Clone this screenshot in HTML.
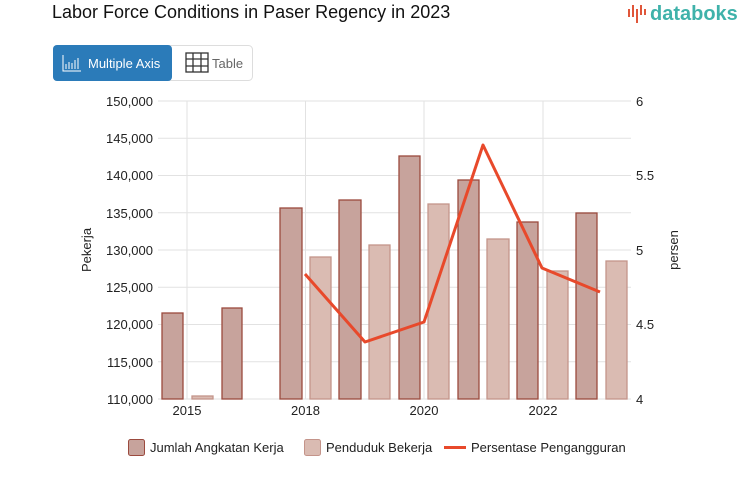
<!DOCTYPE html>
<html><head><style>
body{margin:0;width:753px;height:498px;background:#fff;font-family:"Liberation Sans",sans-serif;overflow:hidden}
</style></head><body>
<svg width="753" height="498" xmlns="http://www.w3.org/2000/svg" font-family="Liberation Sans, sans-serif">
<text x="52" y="18" font-size="18" fill="#111">Labor Force Conditions in Paser Regency in 2023</text>
<g fill="#e0563a"><rect x="628" y="9" width="2" height="8"/><rect x="632" y="5" width="2" height="12"/><rect x="636" y="9" width="2" height="14"/><rect x="640" y="5" width="2" height="10"/><rect x="644" y="9" width="2" height="6"/></g>
<text x="650" y="20" font-size="20" fill="#3fb2aa" font-weight="bold">databoks</text>
<rect x="53.5" y="45.5" width="199" height="35" rx="4" fill="#fff" stroke="#ddd"/>
<rect x="53" y="45" width="119" height="36" rx="4" fill="#2b7bb9"/>
<g stroke="#fff" fill="none" stroke-width="1"><path d="M63 55v16h18"/><path d="M66 69v-5M69 69v-7M72 69v-6M75 69v-9M78 69v-11"/></g>
<text x="88" y="68" font-size="13" fill="#fff">Multiple Axis</text>
<g stroke="#333" fill="none" stroke-width="1.3"><rect x="186" y="53" width="22" height="19"/><path d="M193 53v19M201 53v19M186 59h22M186 66h22"/></g>
<text x="212" y="68" font-size="13" fill="#666">Table</text>
<g stroke="#e2e2e2" stroke-width="1">
<path d="M158 101H631M158 138.25H631M158 175.5H631M158 212.75H631M158 250H631M158 287.25H631M158 324.5H631M158 361.75H631M158 399H631"/>
<path d="M187 101V399M305.5 101V399M424 101V399M543 101V399"/>
</g>
<g font-size="13" fill="#222" text-anchor="end">
<text x="153" y="106">150,000</text><text x="153" y="143">145,000</text><text x="153" y="180">140,000</text><text x="153" y="218">135,000</text><text x="153" y="255">130,000</text><text x="153" y="292">125,000</text><text x="153" y="329">120,000</text><text x="153" y="367">115,000</text><text x="153" y="404">110,000</text>
</g>
<g font-size="13" fill="#222">
<text x="636" y="106">6</text><text x="636" y="180">5.5</text><text x="636" y="255">5</text><text x="636" y="329">4.5</text><text x="636" y="404">4</text>
</g>
<g font-size="13" fill="#222" text-anchor="middle">
<text x="187" y="415">2015</text><text x="305.5" y="415">2018</text><text x="424" y="415">2020</text><text x="543" y="415">2022</text>
</g>
<text transform="translate(91,250) rotate(-90)" font-size="13" fill="#222" text-anchor="middle">Pekerja</text>
<text transform="translate(678,250) rotate(-90)" font-size="13" fill="#222" text-anchor="middle">persen</text>
<g fill="#c7a39c" stroke="#9b4a3e" stroke-width="1.3">
<rect x="162" y="313" width="21" height="86"/><rect x="222" y="308" width="20" height="91"/><rect x="280" y="208" width="22" height="191"/><rect x="339" y="200" width="22" height="199"/><rect x="399" y="156" width="21" height="243"/><rect x="458" y="180" width="21" height="219"/><rect x="517" y="222" width="21" height="177"/><rect x="576" y="213" width="21" height="186"/>
</g>
<g fill="#dabbb2" stroke="#c4948a" stroke-width="1.3">
<rect x="192" y="396" width="21" height="3"/><rect x="310" y="257" width="21" height="142"/><rect x="369" y="245" width="21" height="154"/><rect x="428" y="204" width="21" height="195"/><rect x="487" y="239" width="22" height="160"/><rect x="547" y="271" width="21" height="128"/><rect x="606" y="261" width="21" height="138"/>
</g>
<polyline points="305,274 365,342 424,322 483,145 542,268 600,292" fill="none" stroke="#e8492b" stroke-width="3" stroke-linejoin="round"/>
<rect x="128.5" y="439.5" width="16" height="16" rx="2" fill="#c7a39c" stroke="#9b4a3e"/>
<text x="150" y="452" font-size="13" fill="#222">Jumlah Angkatan Kerja</text>
<rect x="304.5" y="439.5" width="16" height="16" rx="2" fill="#dabbb2" stroke="#c4948a"/>
<text x="326" y="452" font-size="13" fill="#222">Penduduk Bekerja</text>
<rect x="444" y="446" width="22" height="3" fill="#e8492b"/>
<text x="471" y="452" font-size="13" fill="#222">Persentase Pengangguran</text>
</svg>
</body></html>
